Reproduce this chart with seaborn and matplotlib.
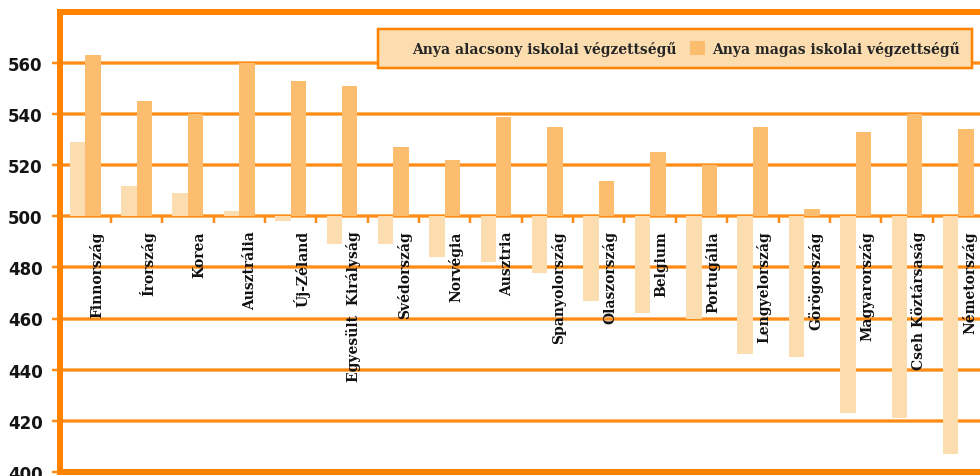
import matplotlib
matplotlib.use("Agg")
import matplotlib.pyplot as plt
import matplotlib.patheffects as pe
from matplotlib.patches import Patch
import numpy as np
import pandas as pd
import seaborn as sns

# PISA-style scores by mother's education level
countries = [
    "Finnország", "Írország", "Korea", "Ausztrália", "Új-Zéland",
    "Egyesült  Királyság", "Svédország", "Norvégia", "Ausztria",
    "Spanyolország", "Olaszország", "Belgium", "Portugália",
    "Lengyelország", "Görögország", "Magyarország", "Cseh Köztársaság",
    "Németország",
]
low_edu = [529, 512, 509, 502, 498, 489, 489, 484, 482, 478, 467, 462, 460,
           446, 445, 423, 421, 407]
high_edu = [563, 545, 540, 560, 553, 551, 527, 522, 539, 535, 514, 525, 520,
            535, 503, 533, 540, 534]
series_names = ["Anya alacsony iskolai végzettségű", "Anya magas iskolai végzettségű"]
y_ticks = [400, 420, 440, 460, 480, 500, 520, 540, 560]

BASE = 500
PALE = "#FCDDB0"
LIGHT_ORANGE = "#FCBD6E"
ORANGE = "#FF8200"
GRID_ORANGE = "#FF8C16"
colors = [PALE, LIGHT_ORANGE]

df = pd.DataFrame({
    "country": countries * 2,
    "group": [series_names[0]] * len(countries) + [series_names[1]] * len(countries),
    "score": low_edu + high_edu,
})
df["delta"] = df["score"] - BASE

sns.set_style("white")
plt.rcParams["font.family"] = ["DejaVu Serif", "DejaVu Sans"]

DPI = 100
fig = plt.figure(figsize=(9.8, 4.77), dpi=DPI)
px = 72 / DPI  # points per pixel
ax = fig.add_axes([59.5 / 980, (477 - 472.8) / 477, (984 - 59.5) / 980, (472.8 - 12.9) / 477])

# bars hang from the 500 baseline
sns.barplot(data=df, x="country", y="delta", hue="group", order=countries,
            hue_order=series_names, palette=colors, saturation=1, width=0.6,
            bottom=BASE, errorbar=None, linewidth=0, legend=False, ax=ax)

ax.set_xlim(-0.5, len(countries) - 0.5)
ax.set_ylim(400, 580)
ax.set_axisbelow(True)

# y axis
ax.set_yticks(y_ticks)
ax.set_yticklabels([str(v) for v in y_ticks], family="DejaVu Sans",
                   fontweight="bold", fontsize=12, color="#141414")
ax.tick_params(axis="y", which="major", left=True, length=8 * px, width=2.5 * px,
               color=GRID_ORANGE, pad=9 * px, direction="out")
ax.grid(True, axis="y", color=GRID_ORANGE, linewidth=2.5 * px,
        path_effects=[pe.Stroke(linewidth=4 * px, foreground="#FCC382"), pe.Normal()])
ax.grid(False, axis="x")

# hide the primary x axis; categories sit on the 500 baseline instead
ax.set_xticks([])
ax.set_xlabel("")
ax.set_ylabel("")

for side in ["left", "top", "bottom"]:
    ax.spines[side].set_visible(True)
    ax.spines[side].set_color(ORANGE)
    ax.spines[side].set_linewidth(6 * px)
ax.spines["right"].set_visible(False)

# category axis on the 500 line
base_frac = (BASE - 400) / (580 - 400)
sec = ax.secondary_xaxis(base_frac)
sec.set_zorder(5)
sec.set_alignment("bottom")
for s in sec.spines.values():
    s.set_visible(False)
idx = np.arange(len(countries))
sec.set_xticks(idx[:-1] + 0.5)
sec.set_xticklabels([])
sec.set_xticks(idx + 0.22, minor=True)
sec.set_xticklabels(countries, minor=True, rotation=90, fontsize=10,
                    fontweight="bold", color="#111111", va="top", ha="center")
sec.tick_params(which="major", length=7 * px, width=2.5 * px, color=GRID_ORANGE,
                direction="out")
sec.tick_params(which="minor", length=0, pad=14 * px)

# legend
handles = [Patch(facecolor=c, edgecolor="none") for c in colors]
leg = ax.legend(handles, series_names, ncol=2, loc="upper left",
                bbox_to_anchor=(0.345, 0.880, 0.642, 0.083), mode="expand",
                borderaxespad=0, frameon=True, fancybox=False,
                prop={"family": "DejaVu Serif", "weight": "bold", "size": 10},
                handlelength=1.1, handleheight=1.1, handletextpad=0.5,
                columnspacing=1.0, borderpad=0.85)
leg.set_zorder(10)
frame = leg.get_frame()
frame.set_facecolor(PALE)
frame.set_edgecolor(ORANGE)
frame.set_linewidth(2.5 * px)
frame.set_alpha(1)

fig.savefig("out.png", dpi=DPI)
